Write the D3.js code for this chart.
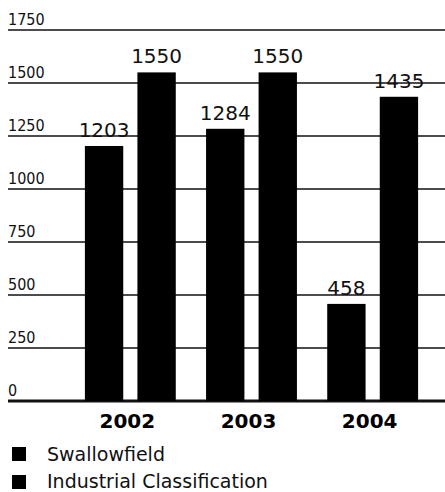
<!DOCTYPE html>
<html>
<head>
<meta charset="utf-8">
<script src="https://cdn.jsdelivr.net/npm/d3@7"></script>
<style>
  body { margin: 0; background: #fff; }
  svg { display: block; }
</style>
</head>
<body>
<div id="chart"></div>
<script>
// data
var years = ["2002", "2003", "2004"];
var series = ["Swallowfield", "Industrial Classification"];
var swallowfield = [1203, 1284, 458];
var industrial = [1550, 1550, 1435];
var yTicks = [0, 250, 500, 750, 1000, 1250, 1500, 1750];

var width = 445, height = 492;

var svg = d3.select("#chart").append("svg")
    .attr("width", width)
    .attr("height", height);

var x0 = d3.scaleBand()
    .domain(years)
    .range([69.75, 433.25])
    .paddingInner(0.25)
    .paddingOuter(0.125);

var x1 = d3.scaleBand()
    .domain(series)
    .range([0, x0.bandwidth()])
    .paddingInner(0.27);

var y = d3.scaleLinear()
    .domain([0, 1750])
    .range([401, 30]);

// gridlines + labels sitting on top of them
var grid = svg.append("g");
yTicks.forEach(function(t) {
    grid.append("line")
        .attr("x1", 8).attr("x2", width)
        .attr("y1", y(t)).attr("y2", y(t))
        .attr("stroke", "#111")
        .attr("stroke-width", t == 0 ? 3 : 1.5);
    grid.append("text")
        .attr("x", 8)
        .attr("y", y(t) - 5)
        .text(t)
        .style("font-family", "'DejaVu Sans Condensed', 'DejaVu Sans', sans-serif")
        .style("font-size", "16px")
        .attr("fill", "#111");
});

var rows = years.map(function(yr, i) {
    return [
        {year: yr, s: series[0], v: swallowfield[i]},
        {year: yr, s: series[1], v: industrial[i]}
    ];
});

var groups = svg.selectAll("g.year")
    .data(rows)
    .enter().append("g")
    .attr("class", "year")
    .attr("transform", function(d) { return "translate(" + x0(d[0].year) + ",0)"; });

groups.selectAll("rect")
    .data(function(d) { return d; })
    .enter().append("rect")
    .attr("x", function(d) { return x1(d.s); })
    .attr("y", function(d) { return y(d.v); })
    .attr("width", x1.bandwidth())
    .attr("height", function(d) { return y(0) - y(d.v); })
    .attr("fill", "#000");

groups.selectAll("text.val")
    .data(function(d) { return d; })
    .enter().append("text")
    .attr("class", "val")
    .attr("x", function(d) { return x1(d.s) + x1.bandwidth() / 2; })
    .attr("y", function(d) { return y(d.v) - 9; })
    .attr("text-anchor", "middle")
    .text(function(d) { return d.v; })
    .style("font-family", "'DejaVu Sans', sans-serif")
    .style("font-size", "20px")
    .attr("fill", "#111");

// year labels
svg.append("g").selectAll("text")
    .data(years)
    .enter().append("text")
    .attr("x", function(d) { return x0(d) + x0.bandwidth() / 2 - 3; })
    .attr("y", 428)
    .attr("text-anchor", "middle")
    .text(function(d) { return d; })
    .style("font-family", "'DejaVu Sans', sans-serif")
    .style("font-weight", "bold")
    .style("font-size", "20px")
    .attr("fill", "#000");

// legend
var legend = svg.append("g");
series.forEach(function(s, i) {
    legend.append("rect")
        .attr("x", 12).attr("y", 447 + i * 28)
        .attr("width", 14).attr("height", 14)
        .attr("fill", "#000");
    legend.append("text")
        .attr("x", 47).attr("y", 461 + i * 27)
        .text(s)
        .style("font-family", "'DejaVu Sans', sans-serif")
        .style("font-size", "19px")
        .attr("fill", "#111");
});
</script>
</body>
</html>
